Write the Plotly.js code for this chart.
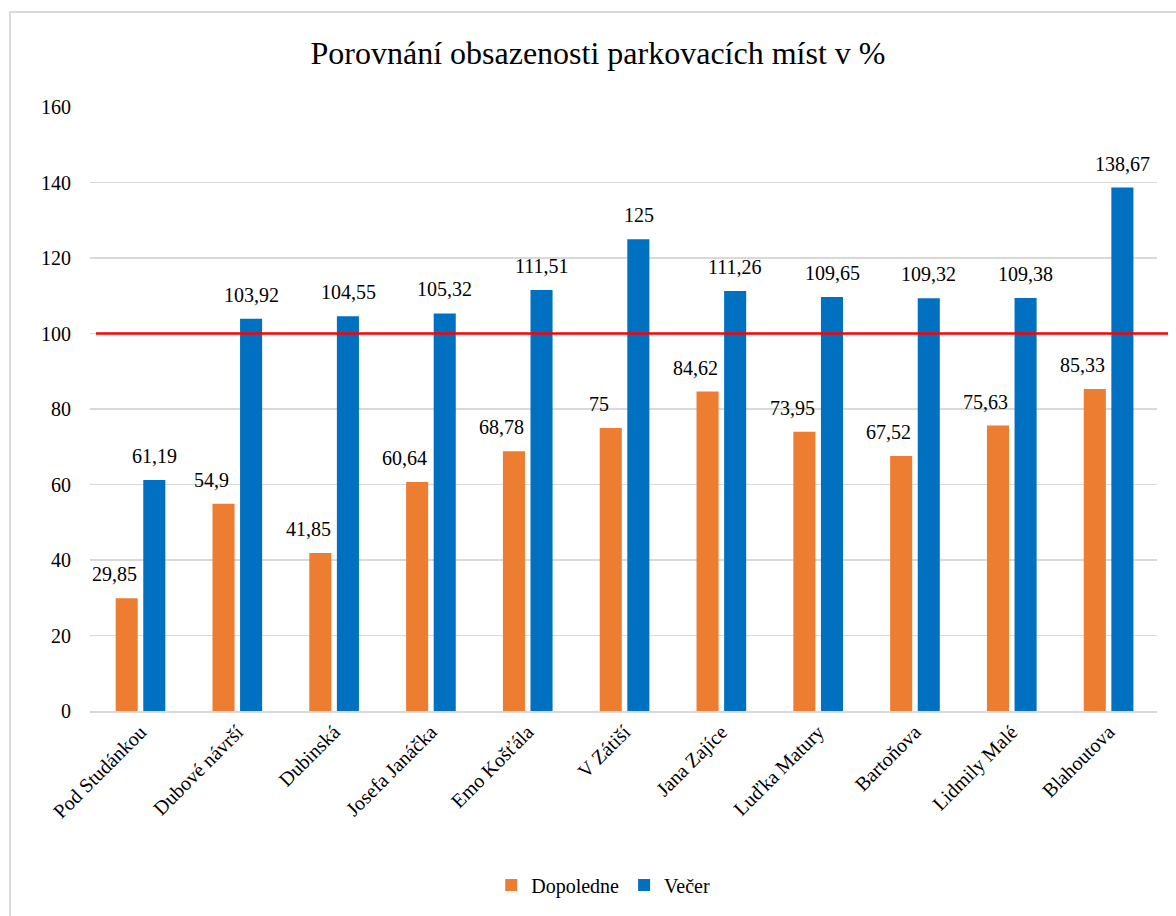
<!DOCTYPE html>
<html>
<head>
<meta charset="utf-8">
<script src="https://cdn.plot.ly/plotly-3.0.1.min.js"></script>
<style>
html,body{margin:0;padding:0;background:#fff;overflow:hidden;}
#frame{position:absolute;left:9px;top:11px;width:1200px;height:950px;border:2px solid #d9d9d9;box-sizing:border-box;}
#chart{position:absolute;left:0;top:0;width:1176px;height:916px;}
#chart text{font-family:'Liberation Serif','Times New Roman',serif !important;}
</style>
</head>
<body>
<div id="frame"></div>
<div id="chart"></div>
<script>
const categories = ["Pod Studánkou","Dubové návrší","Dubinská","Josefa Janáčka","Emo Košťála","V Zátiší","Jana Zajíce","Luďka Matury","Bartoňova","Lidmily Malé","Blahoutova"];
const dopoledne = [29.85, 54.9, 41.85, 60.64, 68.78, 75, 84.62, 73.95, 67.52, 75.63, 85.33];
const vecer = [61.19, 103.92, 104.55, 105.32, 111.51, 125, 111.26, 109.65, 109.32, 109.38, 138.67];
const seriesNames = ["Dopoledne", "Večer"];
const limitValue = 100;

const FONT = "Times New Roman";
const fmt = v => String(v).replace('.', ',');

const traces = [
  {type:'bar', name:seriesNames[0], x:categories, y:dopoledne, marker:{color:'#ED7D31'}, hoverinfo:'none'},
  {type:'bar', name:seriesNames[1], x:categories, y:vecer, marker:{color:'#0070C0'}, hoverinfo:'none'}
];

const annotations = [];
categories.forEach((c, i) => {
  annotations.push({x:c, y:dopoledne[i], xref:'x', yref:'y', text:fmt(dopoledne[i]), showarrow:false,
    xshift:-26, yshift:24, yanchor:'middle', font:{family:FONT, size:20, color:'#000'}});
  annotations.push({x:c, y:vecer[i], xref:'x', yref:'y', text:fmt(vecer[i]), showarrow:false,
    xshift:14, yshift:24, yanchor:'middle', font:{family:FONT, size:20, color:'#000'}});
});

const layout = {
  width:1176, height:916,
  paper_bgcolor:'rgba(0,0,0,0)', plot_bgcolor:'rgba(0,0,0,0)',
  margin:{l:90, r:19, t:107, b:205},
  title:{text:'Porovnání obsazenosti parkovacích míst v %', font:{family:FONT, size:32, color:'#000'},
    x:0.5085, xref:'container', xanchor:'center', y:0.942, yref:'container', yanchor:'middle'},
  barmode:'group', bargap:0.43, bargroupgap:0.2,
  xaxis:{type:'category', tickangle:-45, showgrid:false, showline:true, linecolor:'#d9d9d9', linewidth:1.5,
    ticks:'', tickfont:{family:FONT, size:20, color:'#000'}, fixedrange:true},
  yaxis:{range:[0,160], dtick:20, showgrid:true, gridcolor:'#d9d9d9', gridwidth:1.5, zeroline:false,
    showline:false, ticks:'', ticklabelstandoff:18, tickfont:{family:FONT, size:20, color:'#000'}, fixedrange:true},
  legend:{orientation:'h', x:0.481, xanchor:'center', y:-0.288, yanchor:'middle',
    font:{family:FONT, size:20, color:'#000'}, itemclick:false},
  shapes:[{type:'line', xref:'paper', yref:'y', x0:0.0056, x1:1.0103, y0:limitValue, y1:limitValue,
    line:{color:'#FF0000', width:2.5}, layer:'above'}],
  annotations:annotations,
  showlegend:true
};

Plotly.newPlot('chart', traces, layout, {staticPlot:true});
</script>
</body>
</html>
